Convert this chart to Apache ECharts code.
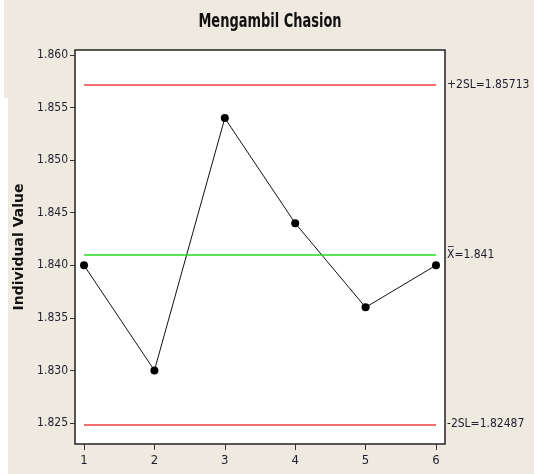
<!DOCTYPE html>
<html>
<head>
<meta charset="utf-8">
<script src="https://cdn.jsdelivr.net/npm/echarts@6/dist/echarts.min.js"></script>
<style>
  html, body { margin: 0; padding: 0; background: #ffffff; }
  #chart { width: 534px; height: 474px; }
</style>
</head>
<body>
<div id="chart"></div>
<script>
// Individual values per observation
const observations = [1, 2, 3, 4, 5, 6];
const values = [1.840, 1.830, 1.854, 1.844, 1.836, 1.840];

// Centre line and 2-sigma limits
const centerLine = 1.841;
const upperLimit = 1.85713;
const lowerLimit = 1.82487;
const centerLabel = 'X\u0305=1.841';
const upperLabel = '+2SL=1.85713';
const lowerLabel = '-2SL=1.82487';
const chartTitle = 'Mengambil Chasion';

// Axis tick values
const xTicks = [1, 2, 3, 4, 5, 6];
const yTicks = [1.825, 1.830, 1.835, 1.840, 1.845, 1.850, 1.855, 1.860];

const beige = '#eeeae0';
const textColor = '#1e1e2e';
const narrowFont = '"DejaVu Sans Condensed", "DejaVu Sans", sans-serif';

const chart = echarts.init(document.getElementById('chart'), null, { renderer: 'canvas' });

function limitLine(value, color, text) {
  return [
    { coord: [observations[0], value], lineStyle: { color: color, width: 1.5, type: 'solid' },
      label: { show: true, position: 'end', formatter: text, distance: 11,
               color: textColor, fontSize: 12, fontFamily: narrowFont } },
    { coord: [observations[observations.length - 1], value] }
  ];
}

chart.setOption({
  backgroundColor: '#ffffff',
  animation: false,
  graphic: [
    { type: 'rect', z: -10, shape: { x: 4, y: 0, width: 530, height: 98 }, style: { fill: beige } },
    { type: 'rect', z: -10, shape: { x: 8, y: 98, width: 526, height: 376 }, style: { fill: beige } },
    // narrow bold heading
    { type: 'text', x: 270, y: 22, scaleX: 0.76, z: 10,
      style: { text: chartTitle, fill: '#111', textAlign: 'center', textVerticalAlign: 'middle',
               font: 'bold 19px "DejaVu Sans Condensed", "DejaVu Sans", sans-serif' } }
  ],
  grid: {
    left: 75, top: 50, right: 89, bottom: 30,
    outerBoundsMode: 'none',
    show: true, backgroundColor: '#ffffff', borderColor: '#222', borderWidth: 1.5
  },
  xAxis: {
    type: 'value', min: 0.872, max: 6.128,
    splitLine: { show: false },
    axisLine: { show: false },
    axisTick: { show: true, customValues: xTicks, length: 6, lineStyle: { color: '#333' } },
    axisLabel: { customValues: xTicks, color: textColor, fontSize: 13, fontFamily: narrowFont, margin: 10 }
  },
  yAxis: {
    type: 'value', min: 1.8230, max: 1.86048,
    name: 'Individual Value', nameLocation: 'middle', nameGap: 47,
    nameTextStyle: { fontFamily: 'DejaVu Sans', fontWeight: 'bold', fontSize: 14, color: '#111' },
    splitLine: { show: false },
    axisLine: { show: false },
    axisTick: { show: true, customValues: yTicks, length: 5, lineStyle: { color: '#333' } },
    axisLabel: { customValues: yTicks, formatter: v => v.toFixed(3), color: textColor,
                 fontSize: 12, fontFamily: narrowFont, margin: 7 }
  },
  series: [{
    type: 'line',
    data: observations.map((x, i) => [x, values[i]]),
    symbol: 'circle', symbolSize: 8,
    itemStyle: { color: '#000' },
    lineStyle: { color: '#111', width: 1 },
    markLine: {
      silent: true, symbol: 'none',
      data: [
        limitLine(upperLimit, '#f04040', upperLabel),
        limitLine(centerLine, '#22dd22', centerLabel),
        limitLine(lowerLimit, '#f04040', lowerLabel)
      ]
    }
  }]
});
</script>
</body>
</html>
